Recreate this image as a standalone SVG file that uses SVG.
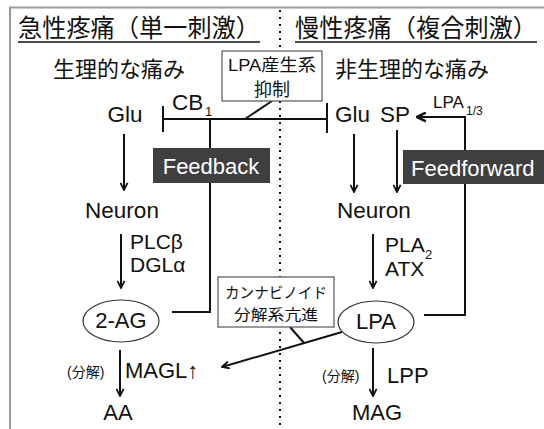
<svg xmlns="http://www.w3.org/2000/svg" width="544" height="429" viewBox="0 0 544 429">
<defs>
<style>
text{font-family:'Liberation Sans','Noto Sans CJK JP',sans-serif;fill:#111}
.jp{font-family:'Noto Sans CJK JP','Liberation Sans',sans-serif}
.t21{font-size:22.5px}
.t20{font-size:21px}
.t22{font-size:22px}
.mid{text-anchor:middle}
.ln{stroke:#111;stroke-width:2;fill:none}
.box{fill:#fff;stroke:#555;stroke-width:1.2}
.dark{fill:#3f3f3f}
.wt{fill:#fff;font-size:22px}
</style>
<marker id="arr" viewBox="0 0 10 10" refX="9" refY="5" markerWidth="9" markerHeight="9" markerUnits="userSpaceOnUse" orient="auto">
<path d="M1,1 L9,5 L1,9" fill="none" stroke="#111" stroke-width="2"/>
</marker>
<marker id="arrB" viewBox="0 0 10 10" refX="9" refY="5" markerWidth="11" markerHeight="11" markerUnits="userSpaceOnUse" orient="auto">
<path d="M1,1 L9,5 L1,9" fill="none" stroke="#111" stroke-width="2.4"/>
</marker>
</defs>
<rect width="544" height="429" fill="#fff"/>
<g id="frame">
<path d="M10,429 L10,7.5 L544,7.5" fill="none" stroke="#999" stroke-width="2"/>
<line x1="280" y1="10" x2="280" y2="429" stroke="#111" stroke-width="2" stroke-dasharray="2 5"/>
</g>
<g id="title-left">
<text class="jp" x="18" y="37" font-size="24.5" textLength="242" lengthAdjust="spacingAndGlyphs">急性疼痛（単一刺激）</text>
<line x1="18" y1="42" x2="260" y2="42" stroke="#111" stroke-width="1.5"/>
</g>
<g id="title-right">
<text class="jp" x="295" y="37" font-size="24.5" textLength="242" lengthAdjust="spacingAndGlyphs">慢性疼痛（複合刺激）</text>
<line x1="295" y1="42" x2="537" y2="42" stroke="#111" stroke-width="1.5"/>
</g>
<g id="label-physio"><text class="jp" x="53" y="77" font-size="22">生理的な痛み</text></g>
<g id="label-nonphysio"><text class="jp" x="335" y="77" font-size="22">非生理的な痛み</text></g>
<g id="connectors">
<line class="ln" x1="124" y1="134" x2="124" y2="190" marker-end="url(#arr)"/>
<line class="ln" x1="121" y1="234" x2="121" y2="288" marker-end="url(#arr)"/>
<line class="ln" x1="120" y1="350" x2="120" y2="396" marker-end="url(#arr)"/>
<line class="ln" x1="354" y1="134" x2="354" y2="192" marker-end="url(#arr)"/>
<line class="ln" x1="397" y1="130" x2="397" y2="192" marker-end="url(#arr)"/>
<line class="ln" x1="373" y1="234" x2="373" y2="288" marker-end="url(#arr)"/>
<line class="ln" x1="373" y1="348" x2="373" y2="396" marker-end="url(#arr)"/>
<line class="ln" x1="163" y1="119" x2="327" y2="119"/>
<line class="ln" x1="163" y1="106" x2="163" y2="132"/>
<line class="ln" x1="327" y1="103" x2="327" y2="133"/>
<line class="ln" x1="272" y1="101" x2="245" y2="119"/>
<path class="ln" d="M210,119 L210,312 L172,312"/>
<path class="ln" d="M424,315 L465,315 L465,117 L417,117" stroke-width="2.4" marker-end="url(#arrB)"/>
<line class="ln" x1="342" y1="332" x2="222" y2="367" marker-end="url(#arr)"/>
<line class="ln" x1="290" y1="327" x2="304" y2="343"/>
</g>
<g id="box-lpa-inhibit">
<rect class="box" x="222" y="51" width="100" height="50"/>
<text class="mid" x="272" y="71" font-size="17" textLength="88" lengthAdjust="spacingAndGlyphs">LPA産生系</text>
<text class="mid jp" x="272" y="96" font-size="18">抑制</text>
</g>
<g id="glu-left"><text class="t21 mid" x="125" y="122">Glu</text></g>
<g id="cb1"><text class="t21" x="172" y="110">CB</text><text x="205" y="116" font-size="13">1</text></g>
<g id="feedback">
<rect class="dark" x="153" y="148" width="117" height="35"/>
<text class="wt mid" x="211" y="174">Feedback</text>
</g>
<g id="neuron-left"><text class="t21 mid" x="122" y="218">Neuron</text></g>
<g id="plc-dgl"><text class="t20" x="130" y="249">PLCβ</text><text class="t20" x="130" y="272">DGLα</text></g>
<g id="ag2">
<ellipse cx="121" cy="321" rx="38" ry="21" fill="#fff" stroke="#333" stroke-width="1.2"/>
<text class="t22 mid" x="121" y="328">2-AG</text>
</g>
<g id="magl">
<text x="67" y="377" font-size="14">(分解)</text>
<text class="t22" x="125" y="378">MAGL↑</text>
</g>
<g id="aa"><text class="t22 mid" x="118" y="420">AA</text></g>
<g id="glu-right"><text class="t21" x="335" y="122">Glu</text></g>
<g id="sp"><text class="t21" x="380" y="122">SP</text></g>
<g id="lpa13"><text x="433" y="108" font-size="17">LPA</text><text x="466" y="115" font-size="12">1/3</text></g>
<g id="feedforward">
<rect class="dark" x="403" y="150" width="141" height="34"/>
<text class="wt" x="411" y="176">Feedforward</text>
</g>
<g id="neuron-right"><text class="t21" x="337" y="218">Neuron</text></g>
<g id="pla2-atx"><text class="t20" x="385" y="252">PLA</text><text x="425" y="259" font-size="13">2</text><text class="t20" x="385" y="276">ATX</text></g>
<g id="lpa">
<ellipse cx="376" cy="322" rx="38" ry="21" fill="#fff" stroke="#333" stroke-width="1.2"/>
<text class="t22 mid" x="376" y="329">LPA</text>
</g>
<g id="lpp">
<text x="322" y="381" font-size="14">(分解)</text>
<text class="t22" x="387" y="383">LPP</text>
</g>
<g id="mag"><text class="t22 mid" x="377" y="420">MAG</text></g>
<g id="box-cannabinoid">
<rect class="box" x="218" y="277" width="116" height="50"/>
<text class="mid jp" x="276" y="298" font-size="15" textLength="102" lengthAdjust="spacingAndGlyphs">カンナビノイド</text>
<text class="mid jp" x="276" y="320" font-size="15" textLength="84" lengthAdjust="spacingAndGlyphs">分解系亢進</text>
</g>
</svg>
